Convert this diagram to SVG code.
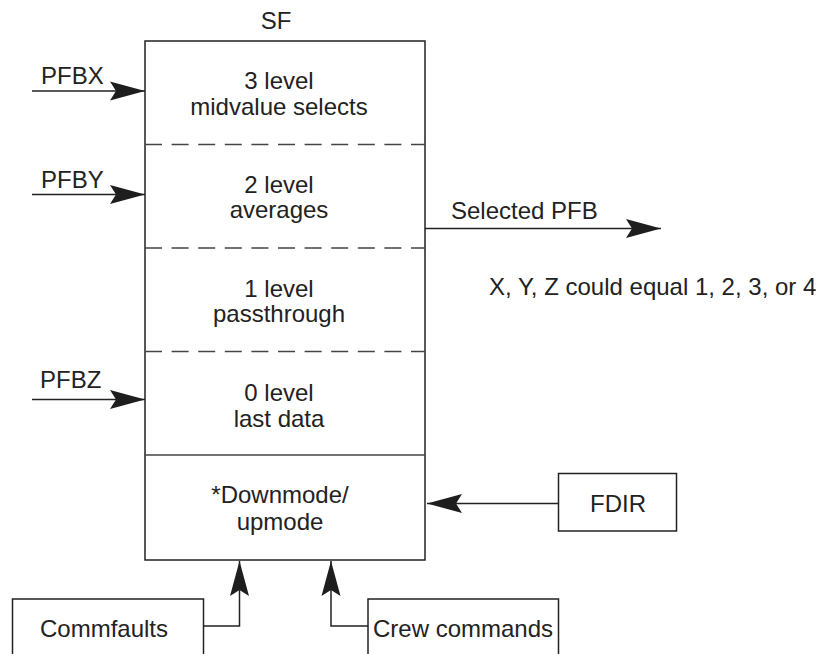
<svg xmlns="http://www.w3.org/2000/svg" width="819" height="654" viewBox="0 0 819 654">
<style>
text{font-family:"Liberation Sans",Arial,sans-serif;font-size:24px;fill:#222}
.m{text-anchor:middle}
.box{fill:none;stroke:#222;stroke-width:1.5}
.dash{stroke:#444;stroke-width:1.3;stroke-dasharray:17 9.6}
.sep{stroke:#444;stroke-width:1.5}
.con{fill:none;stroke:#222;stroke-width:1.5}
</style>
<defs>
<marker id="ah" viewBox="-35 -11 36 22" refX="0" refY="0" markerWidth="36" markerHeight="22" markerUnits="userSpaceOnUse" orient="auto">
<path d="M0,0 L-35,-9.5 L-29,0 L-35,9.5 Z" fill="#1e1e1e"/>
</marker>
</defs>
<g id="sf">
<text class="m" x="276" y="29">SF</text>
<rect class="box" x="145" y="41" width="280" height="519"/>
<line class="dash" x1="145" y1="144.5" x2="425" y2="144.5"/>
<line class="dash" x1="145" y1="248" x2="425" y2="248"/>
<line class="dash" x1="145" y1="351.5" x2="425" y2="351.5"/>
<line class="sep" x1="145" y1="455" x2="425" y2="455"/>
<text class="m" x="279" y="89">3 level</text>
<text class="m" x="279" y="115">midvalue selects</text>
<text class="m" x="279" y="193">2 level</text>
<text class="m" x="279" y="218">averages</text>
<text class="m" x="279" y="297">1 level</text>
<text class="m" x="279" y="322">passthrough</text>
<text class="m" x="279" y="401">0 level</text>
<text class="m" x="279" y="427">last data</text>
<text class="m" x="280" y="503">*Downmode/</text>
<text class="m" x="280" y="530">upmode</text>
</g>
<g id="fdir">
<rect class="box" x="558.5" y="473.5" width="118" height="57.5"/>
<text class="m" x="618" y="512">FDIR</text>
</g>
<g id="commfaults">
<rect class="box" x="12.5" y="599" width="191" height="70"/>
<text class="m" x="104" y="637">Commfaults</text>
</g>
<g id="crew">
<rect class="box" x="368" y="599" width="190.5" height="70"/>
<text class="m" x="463" y="637">Crew commands</text>
</g>
<g id="labels">
<text x="41" y="84">PFBX</text>
<text x="41" y="188">PFBY</text>
<text x="40" y="388">PFBZ</text>
<text x="451" y="219">Selected PFB</text>
<text x="489" y="295">X, Y, Z could equal 1, 2, 3, or 4</text>
</g>
<g id="connectors">
<line class="con" x1="32" y1="91" x2="145" y2="91" marker-end="url(#ah)"/>
<line class="con" x1="32" y1="194.5" x2="145" y2="194.5" marker-end="url(#ah)"/>
<line class="con" x1="32" y1="399.5" x2="145" y2="399.5" marker-end="url(#ah)"/>
<line class="con" x1="425" y1="228.5" x2="661" y2="228.5" marker-end="url(#ah)"/>
<line class="con" x1="558.5" y1="503.5" x2="427" y2="503.5" marker-end="url(#ah)"/>
<path class="con" d="M203.5,626 H239.5 V561" marker-end="url(#ah)"/>
<path class="con" d="M368,626 H331 V561" marker-end="url(#ah)"/>
</g>
</svg>
